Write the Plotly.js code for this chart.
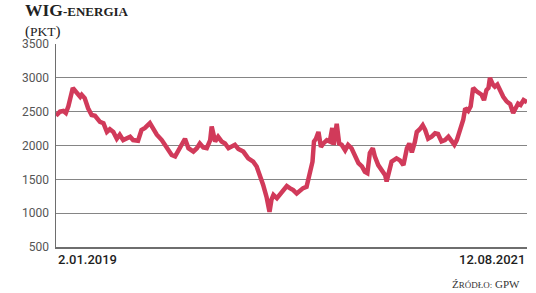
<!DOCTYPE html>
<html>
<head>
<meta charset="utf-8">
<script src="https://cdn.plot.ly/plotly-3.0.1.min.js"></script>
<style>html,body{margin:0;padding:0;background:#fff;}#chart{width:536px;height:293px;}</style>
</head>
<body>
<div id="chart"></div>
<script>
var dates = [
"2019-01-02","2019-01-10","2019-01-17","2019-01-22","2019-01-27","2019-02-05","2019-02-13","2019-02-20","2019-02-23","2019-03-01",
"2019-03-08","2019-03-15","2019-03-22","2019-03-29","2019-04-01","2019-04-08","2019-04-15","2019-04-21","2019-04-28","2019-05-05",
"2019-05-11","2019-05-18","2019-05-25","2019-06-01","2019-06-07","2019-06-17","2019-06-24","2019-07-01","2019-07-11","2019-07-18",
"2019-07-25","2019-08-04","2019-08-14","2019-08-24","2019-08-31","2019-09-10","2019-09-20","2019-09-27","2019-10-07","2019-10-14",
"2019-10-20","2019-10-27","2019-11-03","2019-11-10","2019-11-13","2019-11-20","2019-11-26","2019-12-03","2019-12-10","2019-12-17",
"2019-12-23","2019-12-30","2020-01-06","2020-01-16","2020-01-26","2020-02-05","2020-02-12","2020-02-19","2020-02-25","2020-03-03",
"2020-03-09","2020-03-13","2020-03-17","2020-03-24","2020-03-30","2020-04-06","2020-04-13","2020-04-19","2020-04-26","2020-05-03",
"2020-05-10","2020-05-16","2020-05-23","2020-05-30","2020-06-04","2020-06-07","2020-06-11","2020-06-16","2020-06-21","2020-06-26",
"2020-07-03","2020-07-09","2020-07-14","2020-07-17","2020-07-23","2020-07-28","2020-08-02","2020-08-09","2020-08-15","2020-08-22",
"2020-08-29","2020-09-05","2020-09-12","2020-09-18","2020-09-23","2020-09-28","2020-10-04","2020-10-08","2020-10-15","2020-10-22",
"2020-10-29","2020-11-01","2020-11-06","2020-11-11","2020-11-21","2020-11-28","2020-12-05","2020-12-12","2020-12-17","2020-12-22",
"2020-12-28","2021-01-01","2021-01-07","2021-01-13","2021-01-18","2021-01-24","2021-01-31","2021-02-07","2021-02-13","2021-02-20",
"2021-02-27","2021-03-06","2021-03-13","2021-03-18","2021-03-23","2021-03-28","2021-04-02","2021-04-05","2021-04-09","2021-04-15",
"2021-04-20","2021-04-25","2021-05-02","2021-05-09","2021-05-12","2021-05-17","2021-05-22","2021-05-26","2021-05-29","2021-06-04",
"2021-06-08","2021-06-13","2021-06-18","2021-06-25","2021-07-02","2021-07-09","2021-07-15","2021-07-21","2021-07-25","2021-07-30",
"2021-08-05","2021-08-12"
];
var wigEnergia = [
2440,2500,2510,2480,2580,2850,2780,2720,2750,2700,
2550,2450,2440,2380,2350,2330,2200,2240,2200,2100,
2160,2080,2100,2130,2080,2070,2230,2260,2330,2230,
2160,2080,1960,1860,1840,1980,2100,1960,1910,1960,
2030,1970,1960,2080,2280,2060,2130,2060,2030,1960,
1980,2010,1950,1910,1810,1760,1690,1560,1420,1240,
1020,1200,1270,1220,1270,1340,1400,1370,1340,1290,
1340,1370,1390,1590,1760,2060,2100,2200,1980,2030,
2080,2060,2260,2010,2320,2030,2010,1930,2010,1960,
1860,1740,1690,1610,1590,1890,1960,1840,1710,1640,
1560,1470,1610,1760,1810,1780,1710,1960,2030,1900,
2050,2200,2240,2300,2230,2100,2130,2180,2170,2060,
2080,2130,2060,2010,2080,2200,2350,2380,2550,2510,
2580,2850,2800,2770,2750,2670,2820,2850,3000,2900,
2870,2900,2820,2720,2650,2610,2480,2580,2620,2600,
2670,2640
];
var yTicks = [500,1000,1500,2000,2500,3000,3500];
var startLabel = "2.01.2019";
var endLabel = "12.08.2021";

var trace = {
  x: dates, y: wigEnergia, type: 'scatter', mode: 'lines',
  line: {color: '#d13a5a', width: 4.5, shape: 'linear'},
  hoverinfo: 'skip', cliponaxis: false
};

var serif = '"Liberation Serif", serif';
var layout = {
  width: 536, height: 293,
  margin: {l: 56, r: 9, t: 44, b: 46},
  paper_bgcolor: '#fff', plot_bgcolor: '#fff',
  showlegend: false,
  xaxis: {
    type: 'date', range: ['2019-01-02', '2021-08-12'],
    showgrid: false, zeroline: false, showticklabels: false, ticks: '',
    showline: true, linecolor: '#6e6e6e', linewidth: 1.5, fixedrange: true
  },
  yaxis: {
    range: [500, 3500], tickvals: yTicks, ticktext: yTicks.map(String),
    showgrid: true, gridcolor: '#858585', gridwidth: 1.3, zeroline: false,
    showline: true, linecolor: '#6e6e6e', linewidth: 1.5,
    ticks: 'outside', ticklen: 3, tickcolor: 'rgba(0,0,0,0)',
    tickfont: {family: 'Roboto, "Open Sans", sans-serif', size: 12, color: '#555'},
    fixedrange: true
  },
  annotations: [
    {xref: 'x', yref: 'paper', x: dates[0], y: -0.06, xanchor: 'left', yanchor: 'middle',
     text: startLabel, showarrow: false,
     font: {family: 'Roboto, sans-serif', size: 13, color: '#1e1e1e', weight: 500}},
    {xref: 'x', yref: 'paper', x: dates[dates.length - 1], y: -0.06, xanchor: 'right', yanchor: 'middle',
     text: endLabel, showarrow: false,
     font: {family: 'Roboto, sans-serif', size: 13, color: '#1e1e1e', weight: 500}},
    {xref: 'paper', yref: 'paper', x: -0.07, y: 1.118, xanchor: 'left', yanchor: 'middle', align: 'left',
     text: '<b><span style="font-size:17.5px">WIG</span><span style="font-size:13px">-ENERGIA</span></b><br>(<span style="font-size:13.5px">PKT</span>)',
     showarrow: false,
     font: {family: serif, size: 15, color: '#222'}},
    {xref: 'paper', yref: 'paper', x: 0.99, y: -0.18, xanchor: 'right', yanchor: 'middle',
     text: 'Ź<span style="font-size:9px">RÓDŁO:</span> GPW', showarrow: false,
     font: {family: serif, size: 11, color: '#333'}}
  ]
};

Plotly.newPlot('chart', [trace], layout, {displayModeBar: false, staticPlot: true});
</script>
</body>
</html>
